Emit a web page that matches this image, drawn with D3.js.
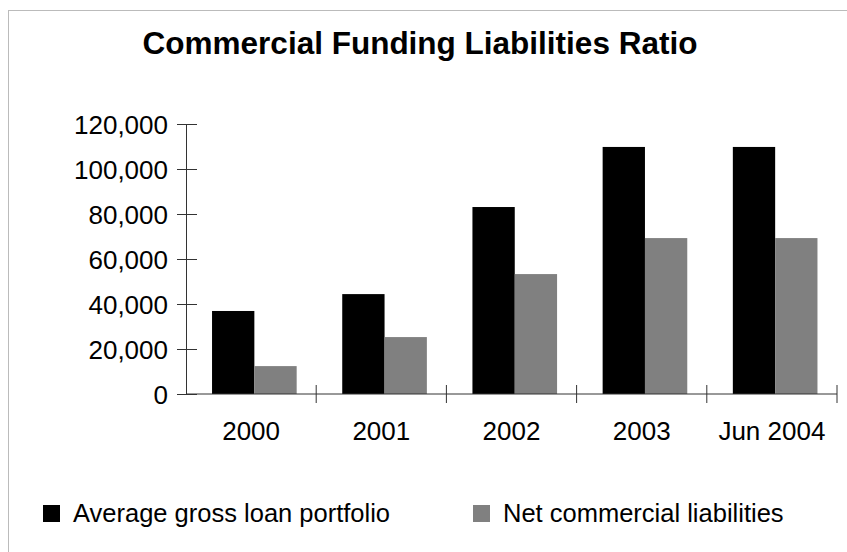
<!DOCTYPE html>
<html><head><meta charset="utf-8">
<script src="https://cdn.jsdelivr.net/npm/d3@7"></script>
<style>body{margin:0;background:#fff;} svg{display:block;font-family:"Liberation Sans",Arial,Helvetica,sans-serif;}</style>
</head><body>
<script>
const categories = ["2000", "2001", "2002", "2003", "Jun 2004"];
const seriesNames = ["Average gross loan portfolio", "Net commercial liabilities"];
const avgGrossLoan = [36900, 44400, 83100, 109800, 109800];
const netCommercial = [12400, 25300, 53300, 69300, 69300];
const yTicks = [0, 20000, 40000, 60000, 80000, 100000, 120000];
const colors = ["#000000", "#808080"];
const title = "Commercial Funding Liabilities Ratio";

const W = 847, H = 552;
const svg = d3.select("body").append("svg").attr("width", W).attr("height", H);

svg.append("rect").attr("x", 8.5).attr("y", 10.5).attr("width", W).attr("height", H)
  .attr("fill", "none").attr("stroke", "#bbbbbb").attr("stroke-width", 1);

svg.append("text").attr("x", 420).attr("y", 54).attr("text-anchor", "middle")
  .attr("font-weight", "bold").attr("font-size", 31.5).text(title);

const x0 = d3.scaleBand().domain(categories).range([186, 837]).paddingInner(0).paddingOuter(0);
const x1 = d3.scaleBand().domain(seriesNames).range([x0.bandwidth() * 0.2, x0.bandwidth() * 0.85]);
const y = d3.scaleLinear().domain([0, 120000]).range([394, 124]);

const data = categories.map((c, i) => ({cat: c, vals: [avgGrossLoan[i], netCommercial[i]]}));

const g = svg.append("g");
g.selectAll("g.grp").data(data).join("g").attr("class", "grp")
  .attr("transform", d => `translate(${x0(d.cat)},0)`)
  .selectAll("rect").data(d => d.vals.map((v, j) => ({name: seriesNames[j], v, j})))
  .join("rect")
  .attr("x", d => x1(d.name)).attr("width", x1.bandwidth())
  .attr("y", d => y(d.v)).attr("height", d => y(0) - y(d.v))
  .attr("fill", d => colors[d.j]);

// y axis
const yAxis = d3.axisLeft(y).tickValues(yTicks).tickSizeInner(9).tickSizeOuter(0)
  .tickFormat(d3.format(","));
const ya = svg.append("g").attr("transform", "translate(186,0)").call(yAxis);
ya.select(".domain").attr("stroke", "#333");
ya.selectAll(".tick line").attr("stroke", "#333").attr("x2", -9).attr("x1", 11);
ya.selectAll(".tick text").attr("font-size", 26).attr("x", -18).attr("dy", "0.35em").attr("fill", "#000")
  .attr("font-family", "Liberation Sans, Arial, sans-serif");

// x axis
const xa = svg.append("g").attr("transform", "translate(0,394)");
xa.append("line").attr("x1", 186).attr("x2", 837).attr("stroke", "#333");
const bounds = categories.map(c => x0(c) + x0.bandwidth());
xa.selectAll("line.tk").data(bounds).join("line").attr("class", "tk")
  .attr("x1", d => d).attr("x2", d => d).attr("y1", -9).attr("y2", 9).attr("stroke", "#333");
xa.selectAll("text").data(categories).join("text")
  .attr("x", d => x0(d) + x0.bandwidth() / 2).attr("y", 46)
  .attr("text-anchor", "middle").attr("font-size", 26).text(d => d);

// legend
const leg = svg.append("g");
const legX = [43, 473];
seriesNames.forEach((n, i) => {
  leg.append("rect").attr("x", legX[i]).attr("y", 505).attr("width", 17).attr("height", 17).attr("fill", colors[i]);
  leg.append("text").attr("x", legX[i] + 30).attr("y", 522).attr("font-size", 25.5).text(n);
});
</script>
</body></html>
